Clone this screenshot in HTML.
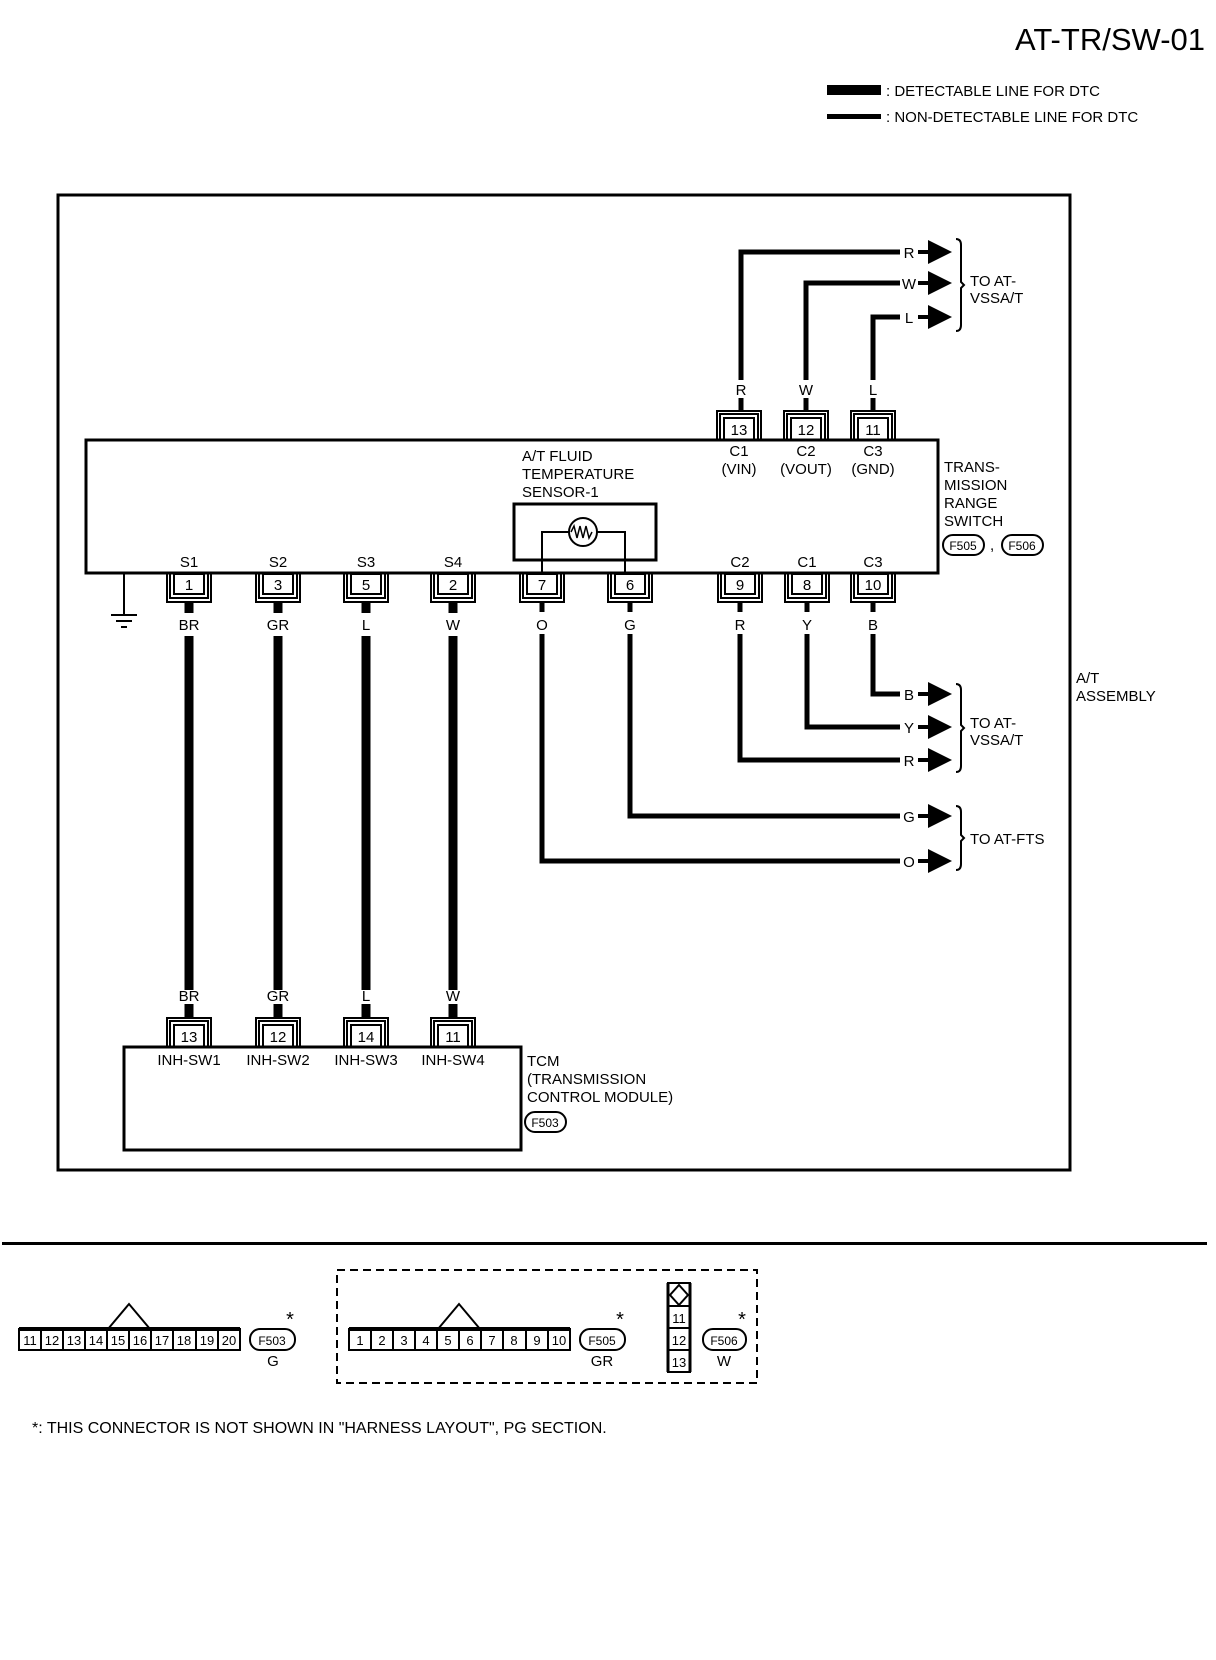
<!DOCTYPE html>
<html><head><meta charset="utf-8"><style>
html,body{margin:0;padding:0;background:#fff;}
svg{display:block;}
text{font-family:"Liberation Sans",sans-serif;fill:#000;}
</style></head><body>
<svg width="1216" height="1660" viewBox="0 0 1216 1660" xmlns="http://www.w3.org/2000/svg">
<g font-size="15">
<text x="1205" y="50" font-size="31" text-anchor="end">AT-TR/SW-01</text>
<rect x="827" y="85" width="54" height="10"/>
<text x="886" y="96">: DETECTABLE LINE FOR DTC</text>
<rect x="827" y="114" width="54" height="5"/>
<text x="886" y="122">: NON-DETECTABLE LINE FOR DTC</text>

<rect x="58" y="195" width="1012" height="975" fill="none" stroke="#000" stroke-width="3"/>
<rect x="86" y="440" width="852" height="133" fill="none" stroke="#000" stroke-width="3"/>
<!-- sensor -->
<rect x="514" y="504" width="142" height="56" fill="none" stroke="#000" stroke-width="3"/>
<path d="M542 573V532H625V573" fill="none" stroke="#000" stroke-width="2"/>
<circle cx="583" cy="532" r="14" fill="#fff" stroke="#000" stroke-width="2"/>
<path d="M571 532l3-6 3 12 3-12 3 12 3-12 3 12 3-6" fill="none" stroke="#000" stroke-width="1.5"/>
<text x="522" y="461">A/T FLUID</text><text x="522" y="479">TEMPERATURE</text><text x="522" y="497">SENSOR-1</text>

<!-- top connectors -->
<g fill="none" stroke="#000" stroke-width="2">
<rect x="724" y="418" width="30" height="22"/><path d="M720 440V414H758V440M717 440V411H761V440"/>
<rect x="791" y="418" width="30" height="22"/><path d="M787 440V414H825V440M784 440V411H828V440"/>
<rect x="858" y="418" width="30" height="22"/><path d="M854 440V414H892V440M851 440V411H895V440"/>
</g>
<text x="739" y="435" text-anchor="middle">13</text><text x="806" y="435" text-anchor="middle">12</text><text x="873" y="435" text-anchor="middle">11</text>
<text x="739" y="456" text-anchor="middle">C1</text><text x="806" y="456" text-anchor="middle">C2</text><text x="873" y="456" text-anchor="middle">C3</text>
<text x="739" y="474" text-anchor="middle">(VIN)</text><text x="806" y="474" text-anchor="middle">(VOUT)</text><text x="873" y="474" text-anchor="middle">(GND)</text>
<g fill="none" stroke="#000" stroke-width="5">
<path d="M741 380V252H900M806 380V283H900M873 380V317H900"/>
<path d="M741 398V411M806 398V411M873 398V411"/>
</g>
<text x="741" y="395" text-anchor="middle">R</text><text x="806" y="395" text-anchor="middle">W</text><text x="873" y="395" text-anchor="middle">L</text>
<g>
<text x="909" y="258" text-anchor="middle">R</text><rect x="918" y="250" width="12" height="4"/><path d="M928 240L952 252L928 264Z"/>
<text x="909" y="289" text-anchor="middle">W</text><rect x="918" y="281" width="12" height="4"/><path d="M928 271L952 283L928 295Z"/>
<text x="909" y="323" text-anchor="middle">L</text><rect x="918" y="315" width="12" height="4"/><path d="M928 305L952 317L928 329Z"/>
</g>
<path d="M956 239q5 0 5 6v37l3 3-3 3v37q0 6-5 6" fill="none" stroke="#000" stroke-width="2"/>
<text x="970" y="286">TO AT-</text><text x="970" y="303">VSSA/T</text>

<!-- TRS label -->
<text x="944" y="472">TRANS-</text><text x="944" y="490">MISSION</text><text x="944" y="508">RANGE</text><text x="944" y="526">SWITCH</text>
<rect x="943" y="535" width="41" height="20" rx="10" fill="none" stroke="#000" stroke-width="2"/><text x="963" y="550" text-anchor="middle" font-size="12">F505</text>
<text x="990" y="550">,</text>
<rect x="1002" y="535" width="41" height="20" rx="10" fill="none" stroke="#000" stroke-width="2"/><text x="1022" y="550" text-anchor="middle" font-size="12">F506</text>

<!-- bottom labels -->
<g text-anchor="middle">
<text x="189" y="567">S1</text><text x="278" y="567">S2</text><text x="366" y="567">S3</text><text x="453" y="567">S4</text>
<text x="740" y="567">C2</text><text x="807" y="567">C1</text><text x="873" y="567">C3</text>
</g>
<!-- bottom connectors -->
<g fill="none" stroke="#000" stroke-width="2">
<rect x="174" y="574" width="30" height="20"/><path d="M170 573V598H208V573M167 573V602H211V573"/>
<rect x="263" y="574" width="30" height="20"/><path d="M259 573V598H297V573M256 573V602H300V573"/>
<rect x="351" y="574" width="30" height="20"/><path d="M347 573V598H385V573M344 573V602H388V573"/>
<rect x="438" y="574" width="30" height="20"/><path d="M434 573V598H472V573M431 573V602H475V573"/>
<rect x="527" y="574" width="30" height="20"/><path d="M523 573V598H561V573M520 573V602H564V573"/>
<rect x="615" y="574" width="30" height="20"/><path d="M611 573V598H649V573M608 573V602H652V573"/>
<rect x="725" y="574" width="30" height="20"/><path d="M721 573V598H759V573M718 573V602H762V573"/>
<rect x="792" y="574" width="30" height="20"/><path d="M788 573V598H826V573M785 573V602H829V573"/>
<rect x="858" y="574" width="30" height="20"/><path d="M854 573V598H892V573M851 573V602H895V573"/>
</g>
<g text-anchor="middle">
<text x="189" y="590">1</text><text x="278" y="590">3</text><text x="366" y="590">5</text><text x="453" y="590">2</text>
<text x="542" y="590">7</text><text x="630" y="590">6</text><text x="740" y="590">9</text><text x="807" y="590">8</text><text x="873" y="590">10</text>
<text x="189" y="630">BR</text><text x="278" y="630">GR</text><text x="366" y="630">L</text><text x="453" y="630">W</text>
<text x="542" y="630">O</text><text x="630" y="630">G</text><text x="740" y="630">R</text><text x="807" y="630">Y</text><text x="873" y="630">B</text>
</g>
<!-- ground -->
<path d="M124 573V614M111 615H137M116 621H132M121 627H127" fill="none" stroke="#000" stroke-width="2"/>

<!-- thick wires -->
<g fill="none" stroke="#000" stroke-width="9">
<path d="M189 602V613M278 602V613M366 602V613M453 602V613"/>
<path d="M189 636V990M278 636V990M366 636V990M453 636V990"/>
<path d="M189 1004V1018M278 1004V1018M366 1004V1018M453 1004V1018"/>
</g>
<g fill="none" stroke="#000" stroke-width="5">
<path d="M542 602V612M630 602V612M740 602V612M807 602V612M873 602V612"/>
<path d="M873 634V694H900M807 634V727H900M740 634V760H900M630 634V816H900M542 634V861H900"/>
</g>
<g>
<text x="909" y="700" text-anchor="middle">B</text><rect x="918" y="692" width="12" height="4"/><path d="M928 682L952 694L928 706Z"/>
<text x="909" y="733" text-anchor="middle">Y</text><rect x="918" y="725" width="12" height="4"/><path d="M928 715L952 727L928 739Z"/>
<text x="909" y="766" text-anchor="middle">R</text><rect x="918" y="758" width="12" height="4"/><path d="M928 748L952 760L928 772Z"/>
<text x="909" y="822" text-anchor="middle">G</text><rect x="918" y="814" width="12" height="4"/><path d="M928 804L952 816L928 828Z"/>
<text x="909" y="867" text-anchor="middle">O</text><rect x="918" y="859" width="12" height="4"/><path d="M928 849L952 861L928 873Z"/>
</g>
<path d="M956 684q5 0 5 6v35l3 3-3 3v35q0 6-5 6" fill="none" stroke="#000" stroke-width="2"/>
<text x="970" y="728">TO AT-</text><text x="970" y="745">VSSA/T</text>
<path d="M956 806q5 0 5 6v23l3 3-3 3v23q0 6-5 6" fill="none" stroke="#000" stroke-width="2"/>
<text x="970" y="844">TO AT-FTS</text>
<text x="1076" y="683">A/T</text><text x="1076" y="701">ASSEMBLY</text>

<!-- TCM -->
<g text-anchor="middle">
<text x="189" y="1001">BR</text><text x="278" y="1001">GR</text><text x="366" y="1001">L</text><text x="453" y="1001">W</text>
</g>
<g fill="none" stroke="#000" stroke-width="2">
<rect x="174" y="1025" width="30" height="22"/><path d="M170 1047V1021H208V1047M167 1047V1018H211V1047"/>
<rect x="263" y="1025" width="30" height="22"/><path d="M259 1047V1021H297V1047M256 1047V1018H300V1047"/>
<rect x="351" y="1025" width="30" height="22"/><path d="M347 1047V1021H385V1047M344 1047V1018H388V1047"/>
<rect x="438" y="1025" width="30" height="22"/><path d="M434 1047V1021H472V1047M431 1047V1018H475V1047"/>
</g>
<rect x="124" y="1047" width="397" height="103" fill="none" stroke="#000" stroke-width="3"/>
<g text-anchor="middle">
<text x="189" y="1042">13</text><text x="278" y="1042">12</text><text x="366" y="1042">14</text><text x="453" y="1042">11</text>
<text x="189" y="1065">INH-SW1</text><text x="278" y="1065">INH-SW2</text><text x="366" y="1065">INH-SW3</text><text x="453" y="1065">INH-SW4</text>
</g>
<text x="527" y="1066">TCM</text><text x="527" y="1084">(TRANSMISSION</text><text x="527" y="1102"> CONTROL MODULE)</text>
<rect x="525" y="1112" width="41" height="20" rx="10" fill="none" stroke="#000" stroke-width="2"/><text x="545" y="1127" text-anchor="middle" font-size="12">F503</text>

<!-- rule -->
<rect x="2" y="1242" width="1205" height="3"/>

<!-- F503 connector -->
<g fill="none" stroke="#000" stroke-width="2">
<rect x="19" y="1329" width="221" height="21"/>
<path d="M19 1329h221" stroke-width="4"/>
<path d="M41 1329v21M63 1329v21M85 1329v21M107 1329v21M129 1329v21M151 1329v21M173 1329v21M196 1329v21M218 1329v21"/>
<path d="M108 1329L129 1304L150 1329"/>
<rect x="250" y="1329" width="45" height="21" rx="10"/>
<rect x="337" y="1270" width="420" height="113" stroke-dasharray="8,5"/>
<rect x="349" y="1329" width="221" height="21"/>
<path d="M349 1329h221" stroke-width="4"/>
<path d="M371 1329v21M393 1329v21M415 1329v21M437 1329v21M459 1329v21M481 1329v21M503 1329v21M526 1329v21M548 1329v21"/>
<path d="M438 1329L459 1304L480 1329"/>
<rect x="580" y="1329" width="45" height="21" rx="10"/>
<rect x="668" y="1283" width="22" height="89"/>
<path d="M668 1306h22M668 1328h22M668 1350h22M679 1285l9 10-9 10-9-10z"/>
<path d="M668 1283v89M690 1283v89" stroke-width="3"/>
<rect x="703" y="1329" width="43" height="21" rx="10"/>
</g>
<g text-anchor="middle" font-size="13">
<text x="30" y="1345">11</text><text x="52" y="1345">12</text><text x="74" y="1345">13</text><text x="96" y="1345">14</text><text x="118" y="1345">15</text><text x="140" y="1345">16</text><text x="162" y="1345">17</text><text x="184" y="1345">18</text><text x="207" y="1345">19</text><text x="229" y="1345">20</text>
<text x="360" y="1345">1</text><text x="382" y="1345">2</text><text x="404" y="1345">3</text><text x="426" y="1345">4</text><text x="448" y="1345">5</text><text x="470" y="1345">6</text><text x="492" y="1345">7</text><text x="514" y="1345">8</text><text x="537" y="1345">9</text><text x="559" y="1345">10</text>
<text x="679" y="1323">11</text><text x="679" y="1345">12</text><text x="679" y="1367">13</text>
<text x="272" y="1345" font-size="12">F503</text><text x="602" y="1345" font-size="12">F505</text><text x="724" y="1345" font-size="12">F506</text>
</g>
<g text-anchor="middle" font-size="15">
<text x="273" y="1366">G</text><text x="602" y="1366">GR</text><text x="724" y="1366">W</text>
<text x="290" y="1326" font-size="20">*</text><text x="620" y="1326" font-size="20">*</text><text x="742" y="1326" font-size="20">*</text>
</g>
<text x="32" y="1433" font-size="16">*: THIS CONNECTOR IS NOT SHOWN IN "HARNESS LAYOUT", PG SECTION.</text>
</g>
</svg>
</body></html>
